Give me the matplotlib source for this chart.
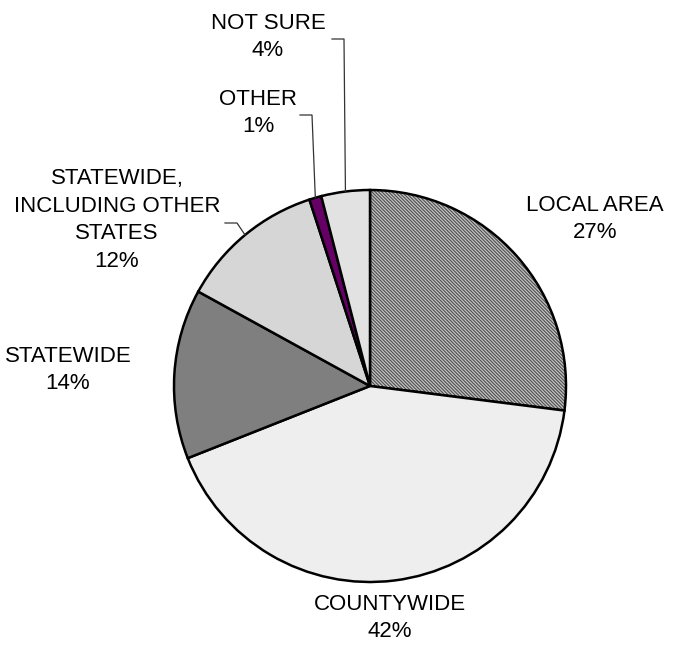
import matplotlib.pyplot as plt
import numpy as np

plt.rcParams['font.family'] = ['Liberation Sans', 'DejaVu Sans']
plt.rcParams['hatch.linewidth'] = 0.8

labels = ["LOCAL AREA", "COUNTYWIDE", "STATEWIDE",
          "STATEWIDE,\nINCLUDING OTHER\nSTATES", "OTHER", "NOT SURE"]
shares = [27, 42, 14, 12, 1, 4]
colors = ["#c4c4c4", "#eeeeee", "#7f7f7f", "#d6d6d6", "#660066", "#e2e2e2"]
hatches = ["\\" * 10, "", "", "", "", ""]

# figure laid out in pixel units (1 data unit = 1 px, y up)
W, H = 673, 646
fig = plt.figure(figsize=(W / 100, H / 100), dpi=100)
ax = fig.add_axes([0, 0, 1, 1])

cx, cy, r = 370, 260, 196
wedges, _ = ax.pie(shares, startangle=90, counterclock=False, colors=colors,
                   center=(cx, cy), radius=r,
                   wedgeprops=dict(edgecolor="black", linewidth=1.8))
for w, h in zip(wedges, hatches):
    if h:
        w.set_hatch(h)
        w._hatch_color = (0.3, 0.3, 0.3, 1.0)

# label centres and leader elbows (None = no leader)
text_pos = [(595, 427), (390, 28), (68, 276), (117, 426), (258, 533), (268, 609)]
elbows = [None, None, None, (225, 423), (300, 531), (332, 607)]

for w, lab, pct, (tx, ty), elb in zip(wedges, labels, shares, text_pos, elbows):
    ax.text(tx, ty, f"{lab}\n{pct}%", ha="center", va="center",
            fontsize=16, linespacing=1.4)
    if elb is not None:
        mid = np.deg2rad((w.theta1 + w.theta2) / 2)
        px, py = cx + r * np.cos(mid), cy + r * np.sin(mid)
        ex, ey = elb
        ax.plot([ex, ex + 12, px], [ey, ey, py], color="#333333", linewidth=0.9)

ax.set_xlim(0, W)
ax.set_ylim(0, H)
ax.set_aspect("equal")
ax.axis("off")

fig.savefig("out.png", dpi=100)
